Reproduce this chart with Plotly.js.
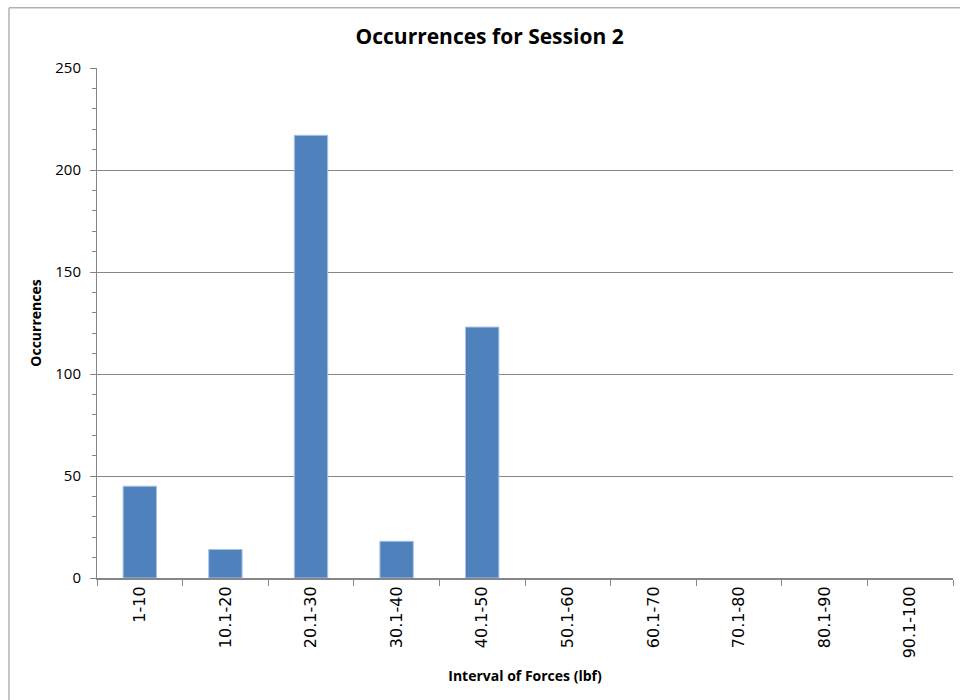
<!DOCTYPE html>
<html>
<head>
<meta charset="utf-8">
<script src="https://cdn.plot.ly/plotly-3.0.1.min.js"></script>
<style>
  html, body { margin:0; padding:0; background:#fff; overflow:hidden; }
  #chart { width:960px; height:700px; }
</style>
</head>
<body>
<div id="chart"></div>
<script>
const categories = ["1-10","10.1-20","20.1-30","30.1-40","40.1-50","50.1-60","60.1-70","70.1-80","80.1-90","90.1-100"];
const occurrences = [45, 14, 217, 18, 123, 0, 0, 0, 0, 0];
const yTicks = [0, 50, 100, 150, 200, 250];

const trace = {
  type: 'bar',
  x: categories,
  y: occurrences,
  marker: { color: '#4F81BD', line: { color: '#A9C2E3', width: occurrences.map(v => v > 0 ? 1 : 0) } },
  hoverinfo: 'x+y'
};

const layout = {
  width: 960, height: 700,
  paper_bgcolor: '#fff', plot_bgcolor: '#fff',
  margin: { l: 97, r: 7, t: 68, b: 122 },
  bargap: 0.61,
  showlegend: false,
  font: { family: '"Open Sans", sans-serif', color: '#000' },
  title: {
    text: '<b>Occurrences for Session 2</b>',
    font: { family: '"Open Sans", sans-serif', size: 21, color: '#000' },
    x: 0.51, xanchor: 'center', y: 0.947, yanchor: 'middle'
  },
  shapes: [
    { type: 'line', xref: 'paper', yref: 'paper', x0: -0.1028, x1: -0.1028, y0: -0.25, y1: 1.118, line: { color: '#8c8c8c', width: 1 } },
    { type: 'line', xref: 'paper', yref: 'paper', x0: -0.1028, x1: 1.1, y0: 1.118, y1: 1.118, line: { color: '#8c8c8c', width: 1 } }
  ],
  xaxis: {
    type: 'category',
    tickangle: -90,
    tickson: 'boundaries',
    ticks: 'outside', ticklen: 6, tickcolor: '#868686',
    showline: true, linecolor: '#868686', linewidth: 2,
    showgrid: false,
    tickfont: { family: 'DejaVu Sans', size: 16, color: '#000' },
    title: { text: '<b>Interval of Forces (lbf)</b>', font: { family: '"Open Sans", sans-serif', size: 14, color: '#000' }, standoff: 14 }
  },
  yaxis: {
    range: [0, 250],
    tickvals: yTicks,
    ticks: 'outside', ticklen: 6, tickcolor: '#868686',
    minor: { dtick: 10, tick0: 0, ticks: 'outside', ticklen: 4, tickcolor: '#868686', showgrid: false },
    showline: true, linecolor: '#868686', linewidth: 1,
    showgrid: true, gridcolor: '#868686', gridwidth: 1,
    zeroline: false,
    ticklabelstandoff: 6,
    tickfont: { family: '"Open Sans", sans-serif', size: 15, color: '#000' },
    title: { text: '<b>Occurrences</b>', font: { family: '"Open Sans", sans-serif', size: 14, color: '#000' }, standoff: 10 }
  }
};

Plotly.newPlot('chart', [trace], layout, { displayModeBar: false, staticPlot: true });
</script>
</body>
</html>
